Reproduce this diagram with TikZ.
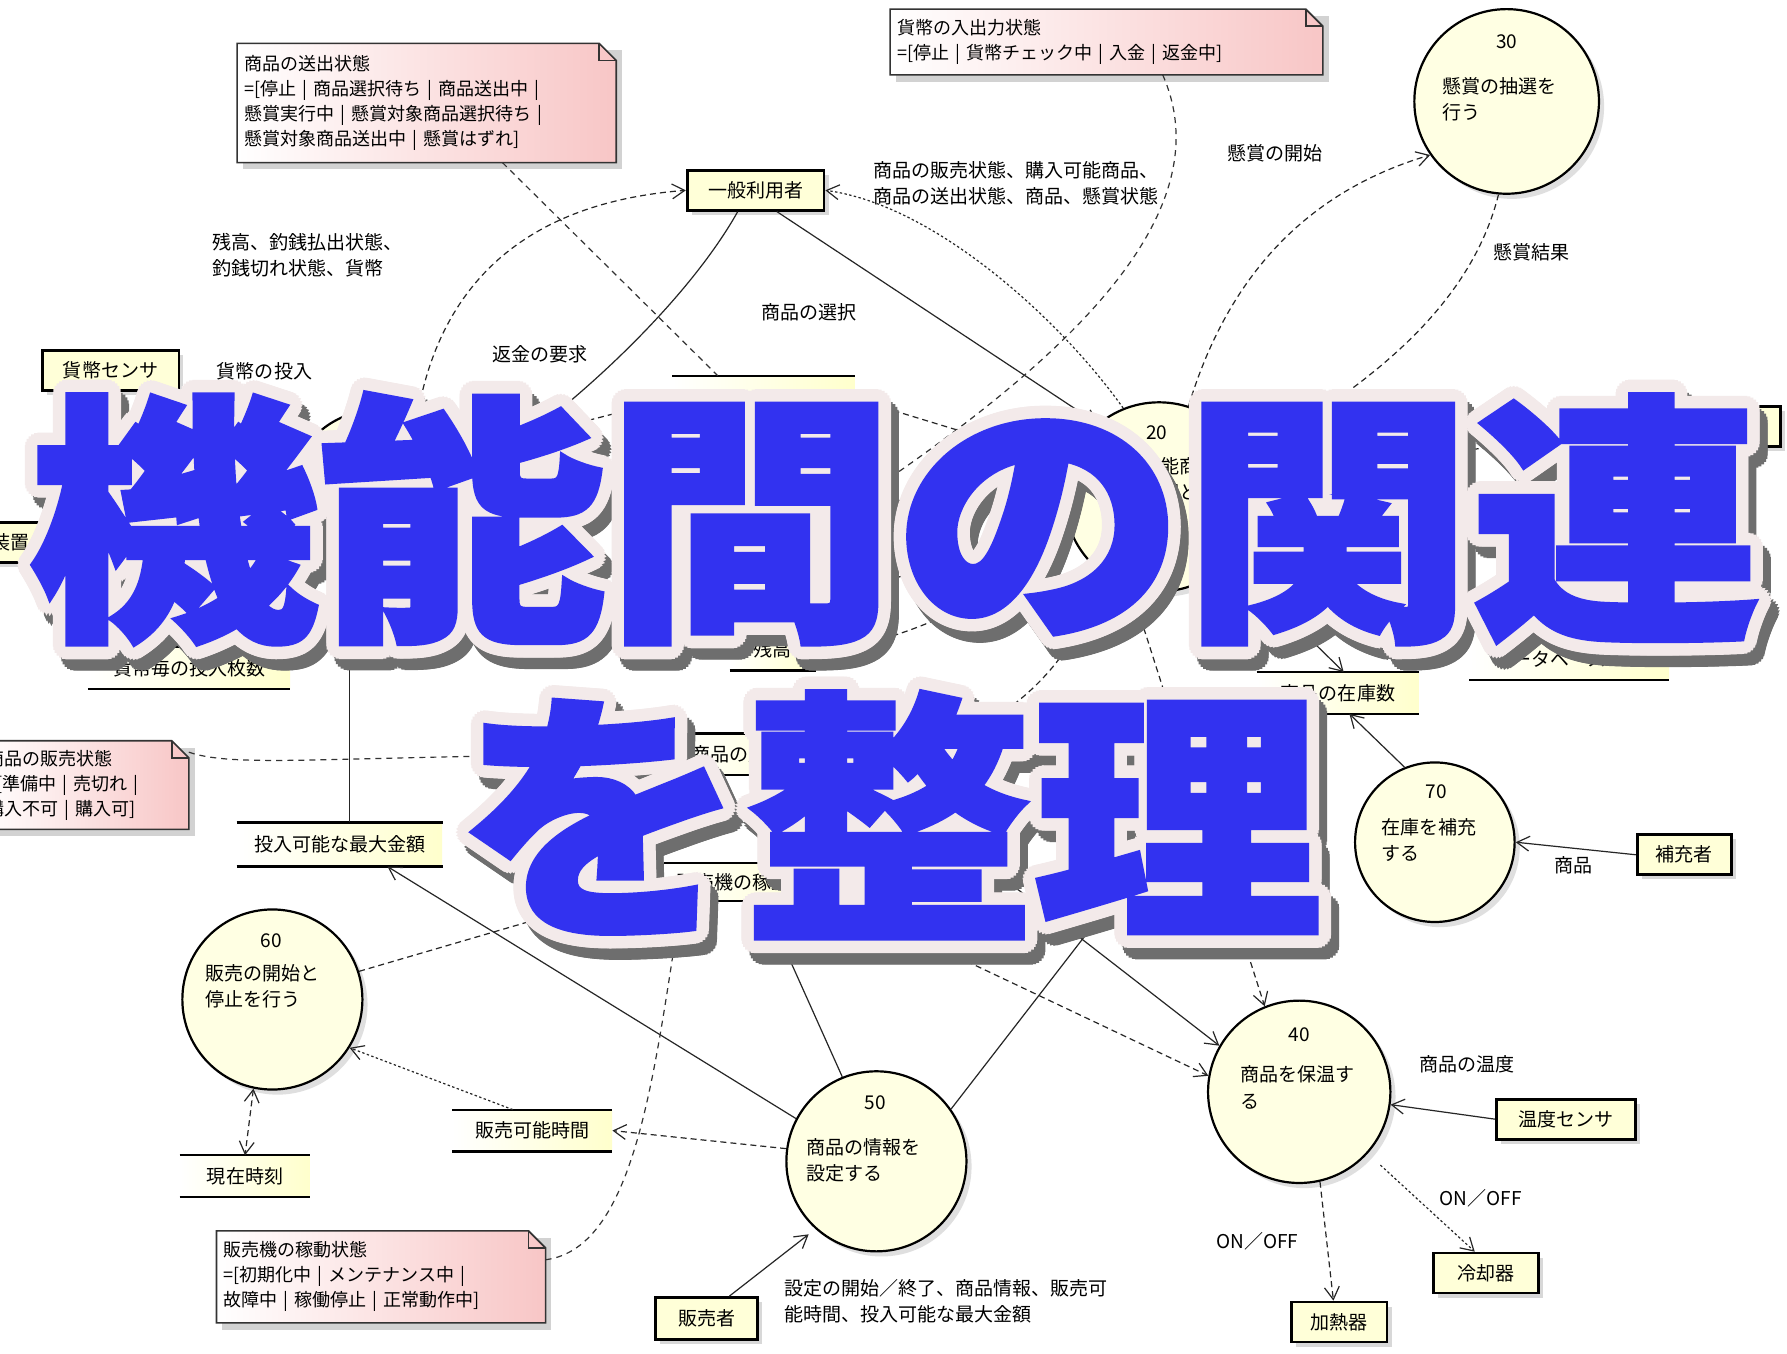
\documentclass[tikz,border=0pt]{standalone}
\usepackage{fontspec}
\usepackage{tikz}
\usetikzlibrary{calc,arrows.meta,shadows,backgrounds}
\newfontfamily\jpfont{Noto Sans CJK JP}
\newfontfamily\ttlfont{Noto Sans CJK JP}[BoldFeatures={FakeBold=2}]
\newcommand\labf{\jpfont\fontsize{9.5}{13}\selectfont}
\newcommand\notef{\jpfont\fontsize{9}{12.5}\selectfont}
\newcommand\ttlwide[1]{\scalebox{1.1}[1]{#1}}
\definecolor{procfill}{HTML}{FFFFE3}
\definecolor{boxfill}{HTML}{FFFFD8}
\definecolor{storefill}{HTML}{FFFFCC}
\definecolor{notefill}{HTML}{F8C6C6}
\definecolor{ttlblue}{HTML}{3232F0}
\definecolor{ttledge}{HTML}{F3EAEA}
\definecolor{ttlshade}{HTML}{6E6E6E}
\tikzset{
  proc/.style={circle, draw=black, line width=1.1pt, fill=procfill, minimum size=#1*0.2mm, inner sep=0pt,
    drop shadow={shadow xshift=0.9mm, shadow yshift=-0.9mm, opacity=0.25}},
  ext/.style={draw=black, line width=1.4pt, fill=boxfill, font=\labf, minimum height=7mm, inner xsep=1.8mm,
    drop shadow={shadow xshift=0.8mm, shadow yshift=-0.8mm, opacity=0.3}},
  store/.style={font=\labf, left color=white, right color=storefill, minimum height=7.2mm, inner xsep=2mm,
    append after command={(\tikzlastnode.north west) edge[storeln] (\tikzlastnode.north east)
      (\tikzlastnode.south west) edge[storeln] (\tikzlastnode.south east)}},
  storeln/.style={-, solid, draw=black, line width=1.1pt},
  note/.style={font=\notef, align=left, inner sep=1.2mm, anchor=north west},
  notefr/.style={draw=black!80, line width=0.8pt},
  flow/.style={draw=black!85, line width=0.6pt, dash pattern=on 3pt off 2pt, ->},
  sflow/.style={flow, solid},
  dots/.style={flow, dash pattern=on 1.2pt off 1.2pt},
  link/.style={draw=black!80, line width=0.6pt, dash pattern=on 3pt off 2.5pt},
  lbl/.style={font=\labf, align=left, anchor=north west, inner sep=0pt},
  pnum/.style={font=\labf, inner sep=0pt},
  ttl/.style={font=\ttlfont\bfseries\fontsize{131}{131}\selectfont, inner sep=0pt}
}

\begin{document}
\begin{tikzpicture}[x=0.2mm, y=-0.2mm, >={Straight Barb[length=2.2mm, width=2.6mm]}]
  \useasboundingbox (0,0) rectangle (1568,1188);
  \begin{scope}[on background layer]
    \fill[white] (0,0) rectangle (1568,1188);
  \end{scope}

  % processes
  \node[proc=150] (p10) at (330,435) {};
  \node[proc=166] (p20) at (1017,436) {};
  \node[proc=162] (p30) at (1322,89) {};
  \node[proc=160] (p40) at (1140,958) {};
  \node[proc=158] (p50) at (769,1019) {};
  \node[proc=158] (p60) at (239,877) {};
  \node[proc=140] (p70) at (1259,739) {};
  \node[pnum] (p10n) at (330,382) {10};
  \node[lbl] (p10t) at (280,410) {貨幣を処理\\する};
  \node[pnum] (p20n) at (1015,380) {20};
  \node[lbl] (p20t) at (968,401) {購入可能商\\品の選択と送\\出する};
  \node[pnum] (p30n) at (1322,37) {30};
  \node[lbl] (p30t) at (1265,68) {懸賞の抽選を\\行う};
  \node[pnum] (p40n) at (1140,908) {40};
  \node[lbl] (p40t) at (1088,935) {商品を保温す\\る};
  \node[pnum] (p50n) at (768,968) {50};
  \node[lbl] (p50t) at (707,999) {商品の情報を\\設定する};
  \node[pnum] (p60n) at (238,825) {60};
  \node[lbl] (p60t) at (180,846) {販売の開始と\\停止を行う};
  \node[pnum] (p70n) at (1260,695) {70};
  \node[lbl] (p70t) at (1212,718) {在庫を補充\\する};

  % external entities
  \node[ext, minimum width=24mm] (user) at (663,167) {一般利用者};
  \node[ext, minimum width=24mm] (csens) at (97,325) {貨幣センサ};
  \node[ext, minimum width=24mm] (lbox) at (-24,476) {釣銭払出装置};
  \node[ext, minimum width=21.4mm] (rbox) at (1509,374) {商品センサ};
  \node[ext, minimum width=16.6mm] (supp) at (1478,750) {補充者};
  \node[ext, minimum width=24.4mm] (tsens) at (1374,982) {温度センサ};
  \node[ext, minimum width=18.4mm] (cool) at (1304,1117) {冷却器};
  \node[ext, minimum width=16.8mm] (heat) at (1175,1160) {加熱器};
  \node[ext, minimum width=18mm, minimum height=7.4mm] (seller) at (620,1157) {販売者};

  % data stores
  \node[store, minimum width=35.4mm] (sCnt) at (166,586) {貨幣毎の投入枚数};
  \node[store, minimum width=15mm] (sBal) at (678,570) {残高};
  \node[store, minimum width=28.4mm] (sStock) at (1174,608) {商品の在庫数};
  \node[store, minimum width=35mm, minimum height=11.6mm, align=left] (sSales) at (1377,567) {売上データ格納用\\データベース};
  \node[store, minimum width=30mm] (sSaleSt) at (665,662) {商品の販売状態};
  \node[store, minimum width=36mm, minimum height=7.6mm] (sMax) at (298,741) {投入可能な最大金額};
  \node[store, minimum width=30mm, minimum height=6.6mm] (sMach) at (660,774) {販売機の稼動状態};
  \node[store, minimum width=28mm] (sTime) at (467,992) {販売可能時間};
  \node[store, minimum width=22.8mm] (sNow) at (215,1032) {現在時刻};
  \node[store, minimum width=32mm, minimum height=8mm] (sOut) at (670,350) {商品の送出状態};
  \node[store, minimum width=32mm, minimum height=8mm] (sMoney) at (670,440) {貨幣の入出力状態};
  \node[store, minimum width=32mm] (sPrize) at (670,519) {懸賞状態};

  % notes
  \node[note, text width=64mm, minimum height=20.8mm] (nOut) at (208,38)
    {商品の送出状態\\=[停止 | 商品選択待ち | 商品送出中 |\\懸賞実行中 | 懸賞対象商品選択待ち |\\懸賞対象商品送出中 | 懸賞はずれ]};
  \node[note, text width=73.4mm, minimum height=11.4mm] (nMoney) at (781,8)
    {貨幣の入出力状態\\=[停止 | 貨幣チェック中 | 入金 | 返金中]};
  \node[note, text width=34.2mm, minimum height=15.4mm] (nSale) at (-18,650)
    {商品の販売状態\\=[準備中 | 売切れ |\\購入不可 | 購入可]};
  \node[note, text width=55.2mm, minimum height=16mm] (nMach) at (190,1080)
    {販売機の稼動状態\\=[初期化中 | メンテナンス中 |\\故障中 | 稼働停止 | 正常動作中]};
  \begin{scope}[on background layer]
    \foreach \nn in {nOut,nMoney,nSale,nMach} {
      \fill[gray!35] ([shift={(1mm,-1.2mm)}]\nn.north west) rectangle ([shift={(1mm,-1.2mm)}]\nn.south east);
      \shade[left color=white, right color=notefill] (\nn.north west) -- ([xshift=-3mm]\nn.north east)
        -- ([yshift=-3mm]\nn.north east) -- (\nn.south east) -- (\nn.south west) -- cycle;
      \draw[notefr] (\nn.north west) -- ([xshift=-3mm]\nn.north east)
        -- ([yshift=-3mm]\nn.north east) -- (\nn.south east) -- (\nn.south west) -- cycle;
      \draw[notefr] ([xshift=-3mm]\nn.north east) |- ([yshift=-3mm]\nn.north east);
    }
  \end{scope}

  % flow labels
  \node[lbl] (lUser) at (766,141) {商品の販売状態、購入可能商品、\\商品の送出状態、商品、懸賞状態};
  \node[lbl] (lStart) at (1077,126) {懸賞の開始};
  \node[lbl] (lRes) at (1310,213) {懸賞結果};
  \node[lbl] (lBal) at (186,204) {残高、釣銭払出状態、\\釣銭切れ状態、貨幣};
  \node[lbl] (lSel) at (668,266) {商品の選択};
  \node[lbl] (lRef) at (432,303) {返金の要求};
  \node[lbl] (lIns) at (190,318) {貨幣の投入};
  \node[lbl] (lGoods) at (1364,751) {商品};
  \node[lbl] (lTemp) at (1245,926) {商品の温度};
  \node[lbl] (lOn1) at (1263,1043) {ON／OFF};
  \node[lbl] (lOn2) at (1067,1081) {ON／OFF};
  \node[lbl] (lSet) at (688,1122) {設定の開始／終了、商品情報、販売可\\能時間、投入可能な最大金額};

  % flows
  \draw[flow] (p10.62) .. controls (385,250) and (460,178) .. (user.west);
  \draw[sflow] (user.230) .. controls (600,270) and (490,370) .. (p10.10);
  \draw[sflow] (user.315) -- (p20.130);
  \draw[dots] (p20.112) .. controls (930,280) and (820,180) .. (user.east);
  \draw[flow] (p20.72) .. controls (1075,250) and (1140,170) .. (p30.215);
  \draw[flow] (p30.265) .. controls (1290,270) and (1200,340) .. (p20.25);
  \draw[sflow] (csens.south east) -- (p10.155);
  \draw[sflow] (lbox.east) -- (p10.190);
  \draw[flow] ([xshift=9mm]sCnt.north) -- (p10.235);
  \draw[flow] (p10.212) -- ([xshift=5mm]sCnt.north);
  \draw[sflow, -] (p10.252) -- (p10.252 |- sMax.north);
  \draw[flow] (p10.305) .. controls (420,545) and (560,568) .. (sBal.west);
  \draw[flow] (p20.205) .. controls (880,520) and (790,568) .. (sBal.east);
  \draw[flow] (p10.28) -- (sOut.west);
  \draw[sflow] (p10.8) -- (sMoney.west);
  \draw[flow] (p10.345) -- (sPrize.west);
  \draw[flow] (sOut.east) -- (p20.160);
  \draw[flow] (sMoney.east) -- (p20.180);
  \draw[sflow] (sPrize.east) -- (p20.195);
  \draw[sflow] (p20.318) -- ([xshift=1mm]sStock.north);
  \draw[flow] (p20.335) -- (sSales.north west);
  \draw[flow] (rbox.west) -- (p20.12);
  \coordinate (hid) at (1335,463);
  \draw[flow] (p20.355) -- (hid);
  \draw[flow] (sSaleSt.east) .. controls (850,665) and (930,610) .. (p20.235);
  \draw[flow, <->] (p20.253) -- (p40.112);
  \draw[sflow] (p70.112) -- ([xshift=2mm]sStock.south);
  \draw[sflow] (supp.west) -- (p70.east);
  \draw[sflow] (p50.35) -- (sStock.south west);
  \draw[sflow] (sSaleSt.east) -- (p40.150);
  \draw[flow] (sMach.south east) -- (p40.170);
  \draw[flow] (p60.18) -- (sMach.west);
  \draw[sflow] (p50.112) -- ([xshift=2mm]sMach.south);
  \draw[sflow] (p50.152) -- ([xshift=8.4mm]sMax.south);
  \draw[flow] (p50.172) -- (sTime.east);
  \draw[dots] ([xshift=-3.4mm]sTime.north) -- (p60.328);
  \draw[flow, <->] (p60.258) -- (sNow.north);
  \draw[sflow, shorten >=1.5mm] ([xshift=4mm]seller.north) -- (p50.228);
  \draw[sflow] (tsens.west) -- (p40.352);
  \draw[flow] (p40.283) -- ([xshift=-1mm]heat.north);
  \draw[dots, shorten <=3mm] (p40.318) -- ([xshift=-2mm]cool.north);

  % note links
  \draw[link] ($(nOut.south west)!0.7!(nOut.south east)$) -- ($(sOut.north west)!0.25!(sOut.north east)$);
  \draw[link] ($(nMoney.south west)!0.63!(nMoney.south east)$) .. controls (1075,190) and (930,320) .. (sMoney.east);
  \draw[link] ([yshift=-2mm]nSale.north east) .. controls (210,675) and (300,662) .. (sSaleSt.west);
  \draw[link] ([yshift=3mm]nMach.east) .. controls (560,1095) and (575,930) .. ([xshift=3mm]sMach.south west);

  % title
  \coordinate (t1) at (785,455);
  \coordinate (t2) at (780,715);
  \foreach \a in {0,15,...,345} {
    \node[ttl, text=ttlshade] (sa\a) at ($(t1)+(\a:11)+(7,10)$) {\ttlwide{機能間の関連}};
    \node[ttl, text=ttlshade] (sb\a) at ($(t2)+(\a:11)+(7,10)$) {\ttlwide{を整理}};
  }
  \foreach \a in {0,15,...,345} {
    \node[ttl, text=ttledge] (ea\a) at ($(t1)+(\a:11)$) {\ttlwide{機能間の関連}};
    \node[ttl, text=ttledge] (eb\a) at ($(t2)+(\a:11)$) {\ttlwide{を整理}};
  }
  \node[ttl, text=ttlblue] (ttl1) at (t1) {\ttlwide{機能間の関連}};
  \node[ttl, text=ttlblue] (ttl2) at (t2) {\ttlwide{を整理}};
\end{tikzpicture}
\end{document}
